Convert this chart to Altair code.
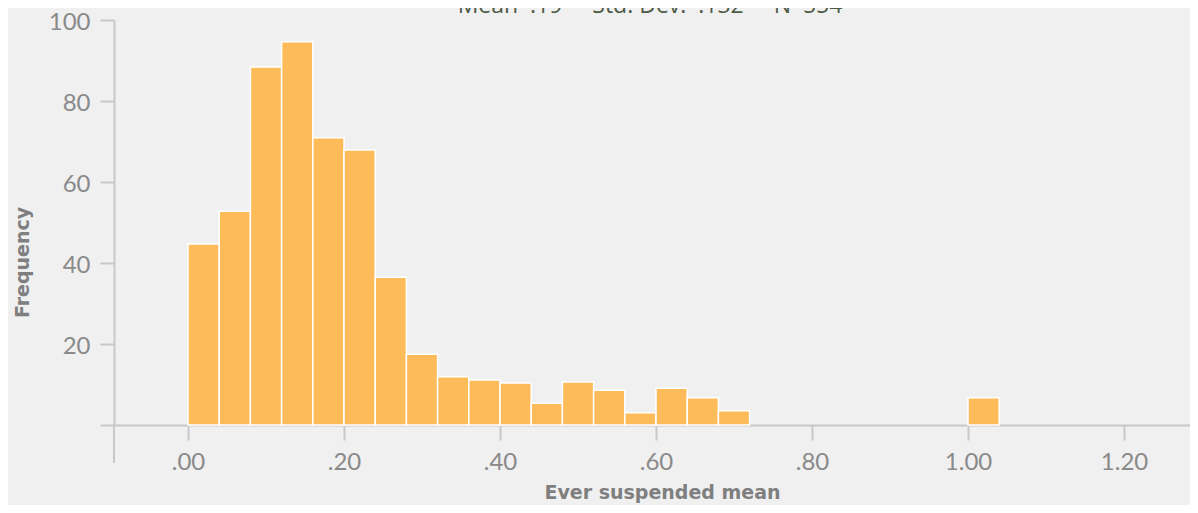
import altair as alt
import pandas as pd

# ---- data ----
bin_start = [0.00, 0.04, 0.08, 0.12, 0.16, 0.20, 0.24, 0.28, 0.32, 0.36,
             0.40, 0.44, 0.48, 0.52, 0.56, 0.60, 0.64, 0.68, 1.00]
bin_width = 0.04
counts = [44.7, 52.8, 88.4, 94.6, 70.9, 67.9, 36.5, 17.5, 11.9, 11.1,
          10.4, 5.4, 10.6, 8.6, 3.0, 9.1, 6.7, 3.5, 6.7]
x_ticks = [0.0, 0.2, 0.4, 0.6, 0.8, 1.0, 1.2]
y_ticks = [0, 20, 40, 60, 80, 100]
stat_names = ["Mean", "Std. Dev.", "N"]
stat_values = [".19", ".132", "554"]
x_title = "Ever suspended mean"
y_title = "Frequency"

df = pd.DataFrame({
    "start": bin_start,
    "end": [round(s + bin_width, 4) for s in bin_start],
    "count": counts,
    "base": [0] * len(counts),
})

NB = "\u00a0"
title_text = (NB * 5).join(f"{n}{NB}{NB}{v}" for n, v in zip(stat_names, stat_values))

W, H = 1076, 405
AXIS_COLOR = "#c8c8c8"
LABEL_COLOR = "#8a8a8a"
TITLE_COLOR = "#7f7f7f"

xscale = alt.Scale(domain=[-0.0949, 1.2846], nice=False, zero=False)
yscale = alt.Scale(domain=[0, 100], nice=False)

bars = alt.Chart(df).mark_bar(
    color="#FDBB59", stroke="white", strokeWidth=1.5
).encode(
    x=alt.X("start:Q", scale=xscale, axis=alt.Axis(
        values=x_ticks,
        labelExpr="datum.value < 1 ? substring(format(datum.value, '.2f'), 1) : format(datum.value, '.2f')",
        title=x_title, tickSize=15, labelPadding=10,
        titleX=548, titleY=67, titleBaseline="middle", titleAnchor="middle",
    )),
    x2="end:Q",
    y=alt.Y("count:Q", scale=yscale, axis=alt.Axis(
        values=y_ticks,
        labelExpr="datum.value == 0 ? '' : datum.label",
        title=y_title, tickSize=14, labelPadding=10, labelOffset=2,
        titleX=-92, titleY=242, titleAngle=-90, titleBaseline="middle",
        titleAlign="center",
    )),
    y2="base:Q",
)

ext = alt.Chart(pd.DataFrame({"v": [0]})).mark_rule(
    color=AXIS_COLOR, strokeWidth=2
).encode(x=alt.value(0), y=alt.value(H), y2=alt.value(H + 38))

title_mark = alt.Chart(pd.DataFrame({"t": [title_text]})).mark_text(
    font="Open Sans", fontSize=23, color="#4d5a45", align="center",
    baseline="alphabetic"
).encode(text="t:N", x=alt.value(536), y=alt.value(-7))

chart = alt.layer(bars, ext, title_mark).properties(
    width=W, height=H,
    padding={"left": 106, "top": 12, "right": 0, "bottom": 80},
    autosize=alt.AutoSizeParams(type="none"),
    background="#f0f0f0",
).configure_view(stroke=None).configure_axis(
    grid=False,
    domainColor=AXIS_COLOR, domainWidth=2,
    tickColor=AXIS_COLOR, tickWidth=2,
    labelColor=LABEL_COLOR, labelFont="Lato", labelFontSize=24,
    labelFontWeight="normal",
    titleColor=TITLE_COLOR, titleFont="DejaVu Sans", titleFontSize=19,
    titleFontWeight="bold",
)

chart.save("out.html", embed_options={"renderer": "svg", "actions": False})
